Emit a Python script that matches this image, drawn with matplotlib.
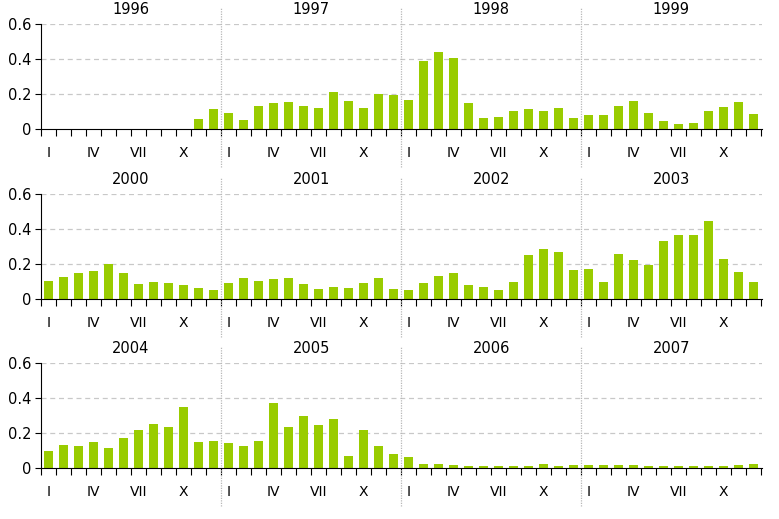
import numpy as np
import matplotlib
matplotlib.use('Agg')
import matplotlib.pyplot as plt

# monthly values, one list per year
years = [1996, 1997, 1998, 1999, 2000, 2001, 2002, 2003, 2004, 2005, 2006, 2007]
values = {
    1996: [0, 0, 0, 0, 0, 0, 0, 0, 0, 0, 0.060, 0.117],
    1997: [0.093, 0.053, 0.133, 0.150, 0.156, 0.133, 0.124, 0.213, 0.162, 0.124, 0.204, 0.198],
    1998: [0.168, 0.390, 0.442, 0.408, 0.150, 0.065, 0.070, 0.105, 0.116, 0.105, 0.122, 0.065],
    1999: [0.082, 0.082, 0.133, 0.162, 0.093, 0.048, 0.030, 0.036, 0.105, 0.128, 0.156, 0.088],
    2000: [0.105, 0.128, 0.150, 0.162, 0.202, 0.150, 0.088, 0.099, 0.093, 0.082, 0.065, 0.053],
    2001: [0.093, 0.122, 0.105, 0.116, 0.122, 0.088, 0.059, 0.070, 0.065, 0.093, 0.122, 0.059],
    2002: [0.051, 0.093, 0.133, 0.150, 0.082, 0.070, 0.053, 0.099, 0.253, 0.288, 0.270, 0.168],
    2003: [0.173, 0.099, 0.259, 0.225, 0.196, 0.333, 0.368, 0.368, 0.448, 0.230, 0.156, 0.099],
    2004: [0.099, 0.133, 0.128, 0.150, 0.116, 0.173, 0.219, 0.253, 0.236, 0.350, 0.150, 0.156],
    2005: [0.145, 0.128, 0.156, 0.373, 0.236, 0.299, 0.248, 0.282, 0.070, 0.219, 0.128, 0.082],
    2006: [0.065, 0.025, 0.025, 0.019, 0.013, 0.013, 0.013, 0.013, 0.013, 0.025, 0.013, 0.019],
    2007: [0.019, 0.019, 0.019, 0.019, 0.013, 0.013, 0.013, 0.013, 0.013, 0.013, 0.019, 0.025],
}
month_labels = ["I", "IV", "VII", "X"]
month_label_idx = [0, 3, 6, 9]
yticks = [0, 0.2, 0.4, 0.6]
ytick_labels = ["0", "0.2", "0.4", "0.6"]

BAR = "#99cc00"
W, H = 779, 519
fig = plt.figure(figsize=(W / 100, H / 100), dpi=100)

row_tops = [24.3, 194.3, 363.3]   # pixel y of 0.6 line
for r in range(3):
    top = row_tops[r]
    ax = fig.add_axes([41 / W, (H - top - 105) / H, 721 / W, 105 / H])
    row_years = years[r * 4:(r + 1) * 4]
    vals = []
    for y in row_years:
        vals += values[y]
    x = np.arange(48) + 0.5
    ax.bar(x, vals, width=0.6, color=BAR, zorder=3)
    ax.set_xlim(0, 48.05)
    ax.set_ylim(0, 0.6)

    for s in ["top", "right"]:
        ax.spines[s].set_visible(False)
    ax.spines["left"].set_color("black")
    ax.spines["bottom"].set_color("black")
    ax.spines["bottom"].set_zorder(4)

    ax.set_yticks(yticks)
    ax.set_yticklabels(ytick_labels, fontsize=10.5)
    ax.tick_params(axis="y", length=4, pad=3)
    for yv in yticks[1:]:
        ax.axhline(yv, color="#c8c8c8", linestyle=(0, (4, 3)), linewidth=0.9, zorder=1)

    ax.set_xticks(np.arange(49))
    ax.set_xticklabels([])
    ax.tick_params(axis="x", which="major", length=5, direction="out")
    minor = []
    minor_lab = []
    for k in range(4):
        for i, lab in zip(month_label_idx, month_labels):
            minor.append(k * 12 + i + 0.5)
            minor_lab.append(lab)
    ax.set_xticks(minor, minor=True)
    ax.set_xticklabels(minor_lab, minor=True, fontsize=10)
    ax.tick_params(axis="x", which="minor", length=0, pad=12)

    for k, y in enumerate(row_years):
        ax.text(k * 12 + 6, 0.685, str(y), ha="center", va="center", fontsize=10.5)
        if k > 0:
            ax.axvline(k * 12, ymin=-0.36, ymax=1.16, color="#b8b8b8",
                       linestyle=(0, (1, 1)), linewidth=0.9, clip_on=False, zorder=2)

fig.savefig("out.png", dpi=100)
